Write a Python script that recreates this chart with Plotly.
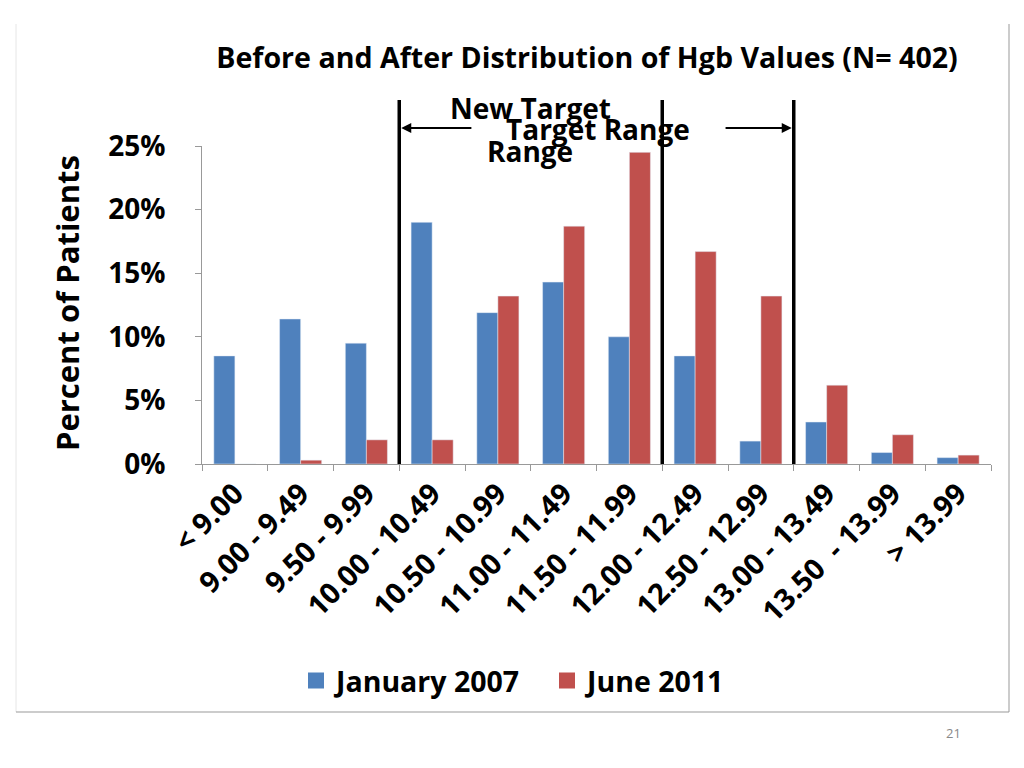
import plotly.graph_objects as go

categories = ["< 9.00", "9.00 - 9.49", "9.50 - 9.99", "10.00 - 10.49", "10.50 - 10.99",
              "11.00 - 11.49", "11.50 - 11.99", "12.00 - 12.49", "12.50 - 12.99",
              "13.00 - 13.49", "13.50  - 13.99", "> 13.99"]
jan_2007 = [0.085, 0.114, 0.095, 0.190, 0.119, 0.143, 0.100, 0.085, 0.018, 0.033, 0.009, 0.005]
jun_2011 = [0.000, 0.003, 0.019, 0.019, 0.132, 0.187, 0.245, 0.167, 0.132, 0.062, 0.023, 0.007]
y_ticks = [0, 0.05, 0.10, 0.15, 0.20, 0.25]
y_tick_labels = ["0%", "5%", "10%", "15%", "20%", "25%"]

FONT = "Open Sans"
BLUE = "#4F81BD"
RED = "#C0504D"

# plot area in screen pixels (page is offset by the 8px body margin)
PL, PR, PT, PB = 202, 991, 146, 464
W, H = PR - PL, PB - PT


def px(x):
    return (x - PL) / W


def py(y):
    return (PB - y) / H


fig = go.Figure()
for name, vals, col, grp in [("January 2007", jan_2007, BLUE, "jan"),
                             ("June 2011", jun_2011, RED, "jun")]:
    fig.add_trace(go.Bar(name=name, x=categories, y=vals, marker_color=col,
                         legendgroup=grp, showlegend=False))
for name, col, grp in [("January 2007", BLUE, "jan"), ("June 2011", RED, "jun")]:
    # legend entry with a larger square swatch
    fig.add_trace(go.Scatter(name=name, x=[None], y=[None], mode="markers",
                             marker=dict(symbol="square", size=16, color=col),
                             legendgroup=grp, showlegend=True))

# vertical boundary lines (between categories)
for xb in [2.5, 6.5, 8.5]:
    fig.add_shape(type="line", xref="x", yref="paper", x0=xb, x1=xb, y0=0, y1=py(100),
                  line=dict(color="black", width=3.5))

# arrows
fig.add_annotation(xref="x", yref="paper", axref="x", ayref="pixel",
                   x=2.53, y=py(128), ax=3.62, ay=0, text="", showarrow=True,
                   arrowhead=2, arrowsize=1, arrowwidth=2, arrowcolor="black")
fig.add_annotation(xref="x", yref="paper", axref="x", ayref="pixel",
                   x=8.47, y=py(128), ax=7.44, ay=0, text="", showarrow=True,
                   arrowhead=2, arrowsize=1, arrowwidth=2, arrowcolor="black")

txt_font = dict(family=FONT, size=28, color="black", weight="bold")
fig.add_annotation(xref="x", yref="paper", x=4.49, y=py(108), yanchor="middle",
                   text="New Target", showarrow=False, font=txt_font)
fig.add_annotation(xref="x", yref="paper", x=4.49, y=py(151), yanchor="middle",
                   text="Range", showarrow=False, font=txt_font)
fig.add_annotation(xref="x", yref="paper", x=5.52, y=py(129), yanchor="middle",
                   text="Target Range", showarrow=False, font=txt_font)

# y axis title
fig.add_annotation(xref="paper", yref="paper", x=px(67), y=py(303), xanchor="center",
                   yanchor="middle", text="Percent of Patients",
                   textangle=-90, showarrow=False,
                   font=dict(family=FONT, size=31, color="black", weight="bold"))

# page number
fig.add_annotation(xref="paper", yref="paper", x=px(953), y=py(733), xanchor="center",
                   yanchor="middle", text="21", showarrow=False,
                   font=dict(family=FONT, size=13, color="#888888"))

# slide frame
frame = dict(color="#999999", width=1)
fig.add_shape(type="line", xref="paper", yref="paper", x0=px(16), x1=px(16),
              y0=py(24), y1=py(712), line=dict(color="#e6e6e6", width=1))
fig.add_shape(type="line", xref="paper", yref="paper", x0=px(1009), x1=px(1009),
              y0=py(24), y1=py(712), line=frame)
fig.add_shape(type="line", xref="paper", yref="paper", x0=px(16), x1=px(1009),
              y0=py(712), y1=py(712), line=frame)

fig.update_layout(
    width=1016, height=760,
    margin=dict(l=PL - 8, r=1016 - (PR - 8), t=PT - 8, b=760 - (PB - 8)),
    paper_bgcolor="white", plot_bgcolor="white",
    barmode="group", bargap=0.36, bargroupgap=0,
    title=dict(text="Before and After Distribution of Hgb Values (N= 402)",
               x=(587 - 8) / 1016, xanchor="center", y=1 - (58 - 8) / 760, yanchor="middle",
               font=dict(family=FONT, size=28.6, color="black", weight="bold")),
    font=dict(family=FONT, color="black"),
    showlegend=True,
    legend=dict(orientation="h", x=px(296), xanchor="left",
                y=py(681), yanchor="middle", itemsizing="trace",
                entrywidth=206, entrywidthmode="pixels",
                font=dict(family=FONT, size=28.5, color="black", weight="bold")),
)
fig.update_yaxes(range=[0, 0.25], tickvals=y_ticks, ticktext=y_tick_labels,
                 showgrid=False, zeroline=False, showline=True, linecolor="#999999",
                 ticks="outside", ticklen=6, tickcolor="#999999", ticklabelstandoff=24,
                 tickfont=dict(family=FONT, size=28, color="black", weight="bold"))
fig.update_xaxes(showgrid=False, showline=True, linecolor="#999999",
                 ticks="outside", ticklen=6, tickcolor="#999999", tickson="boundaries",
                 tickangle=-45,
                 tickfont=dict(family=FONT, size=29, color="black", weight="bold"))

fig.write_html("out.html")
